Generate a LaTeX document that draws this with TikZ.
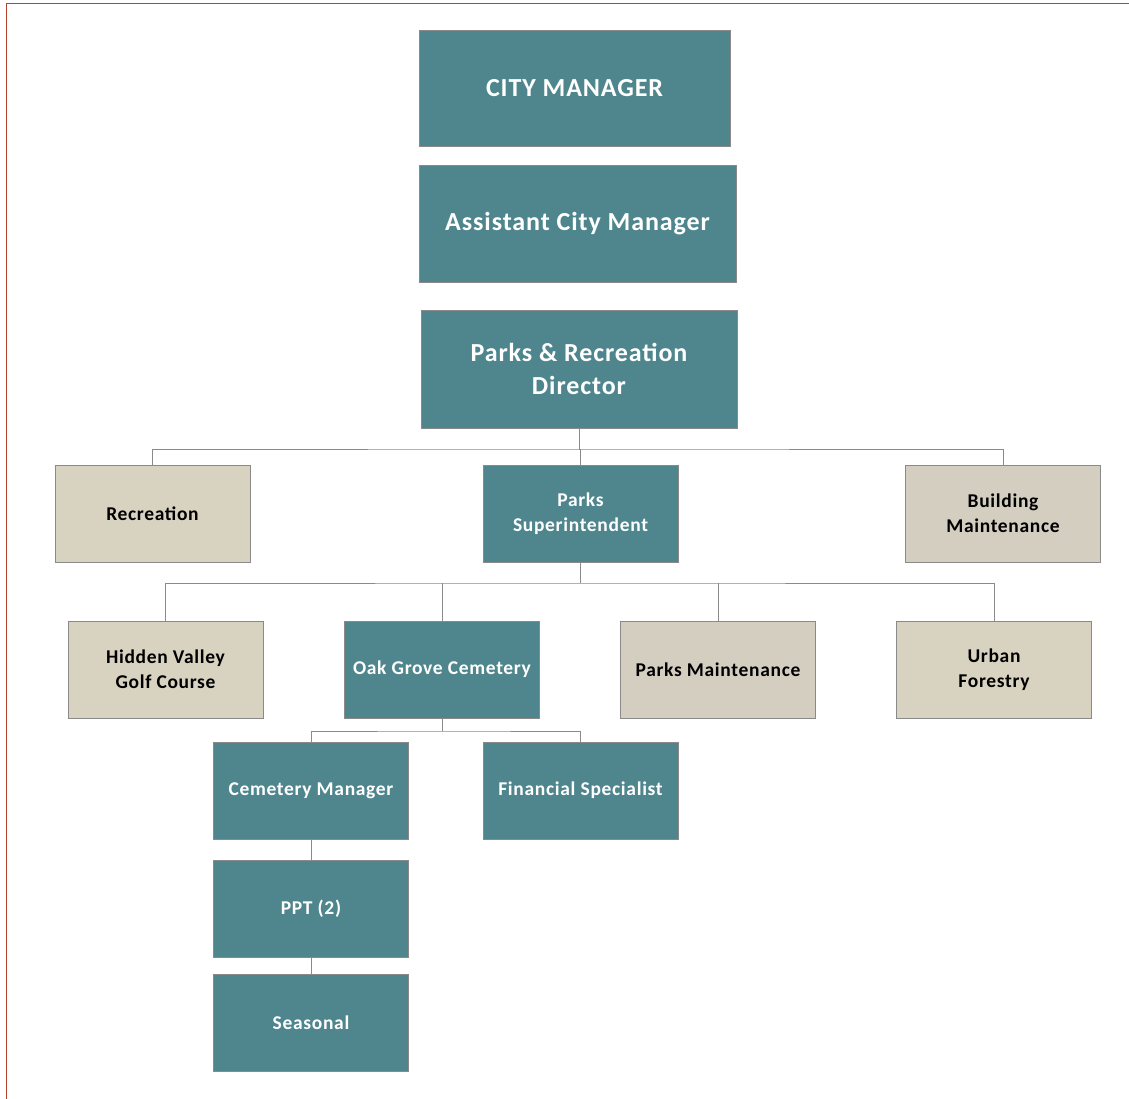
\documentclass[tikz,border=0pt]{standalone}
\usepackage{fontspec}
\setmainfont{Carlito}
\newfontfamily\chartfont[LetterSpace=3.5]{Carlito}
\usetikzlibrary{positioning}
\definecolor{teal}{HTML}{4F868E}
\definecolor{sand}{HTML}{D8D3C0}
\definecolor{stone}{HTML}{D4CEC1}
\definecolor{edge}{HTML}{8A8A8A}
\definecolor{frame}{HTML}{B3432F}
\tikzset{
  unit/.style={draw=edge, line width=0.8pt, minimum width=195pt, minimum height=97pt,
    align=center, inner sep=0pt, font=\chartfont\bfseries\fontsize{19.5}{25}\selectfont},
  tealbox/.style={unit, fill=teal, text=white},
  sandbox/.style={unit, fill=sand, text=black},
  stonebox/.style={unit, fill=stone, text=black},
  headbox/.style={tealbox, minimum height=117pt, font=\chartfont\bfseries\fontsize{26}{33}\selectfont},
  link/.style={draw=edge, line width=1pt}
}
\begin{document}
\begin{tikzpicture}[x=1pt,y=-1pt]
\useasboundingbox (0,0) rectangle (1129,1099);
\fill[white] (0,0) rectangle (1129,1099);
% page frame
\draw[frame, line width=1.5pt] (6.5,1099) -- (6.5,3.5) -- (1129,3.5);

% executive levels
\node[headbox, minimum width=311pt, minimum height=116pt] (cm) at (574.5,88) {CITY MANAGER};
\node[headbox, minimum width=317pt] (acm) at (577.5,223.5) {Assistant City Manager};
\node[headbox, minimum width=316pt, minimum height=118pt] (dir) at (579,369) {Parks \& Recreation\\Director};

% divisions
\node[sandbox] (rec) at (152.5,513.5) {Recreation};
\node[tealbox] (sup) at (580.5,513.5) {Parks\\Superintendent};
\node[stonebox] (bld) at (1003,513.5) {Building\\Maintenance};

% park units
\node[sandbox] (golf) at (165.5,669.5) {Hidden Valley\\Golf Course};
\node[tealbox] (oak) at (442,669.5) {Oak Grove Cemetery};
\node[stonebox] (pm) at (718,669.5) {Parks Maintenance};
\node[sandbox] (urb) at (994,669.5) {Urban\\Forestry};

% cemetery staff
\node[tealbox] (cmgr) at (311,790.5) {Cemetery Manager};
\node[tealbox] (fin) at (580.5,790.5) {Financial Specialist};
\node[tealbox] (ppt) at (311,908.5) {PPT (2)};
\node[tealbox] (sea) at (311,1022.5) {Seasonal};

% reporting lines
\coordinate (busA) at (0,449);
\draw[link] (dir.south) -- (dir.south |- busA);
\draw[link] (rec.north) |- (dir.south |- busA) -| (bld.north);
\draw[link] (dir.south |- busA) -| (sup.north);

\coordinate (busB) at (0,583);
\draw[link] (sup.south) -- (sup.south |- busB);
\draw[link] (golf.north) |- (sup.south |- busB) -| (urb.north);
\draw[link] (oak.north) -- (oak.north |- busB);
\draw[link] (pm.north) -- (pm.north |- busB);

\coordinate (busC) at (0,731);
\draw[link] (oak.south) -- (oak.south |- busC);
\draw[link] (cmgr.north) |- (oak.south |- busC) -| (fin.north);

\draw[link] (cmgr.south) -- (ppt.north);
\draw[link] (ppt.south) -- (sea.north);
\end{tikzpicture}
\end{document}
